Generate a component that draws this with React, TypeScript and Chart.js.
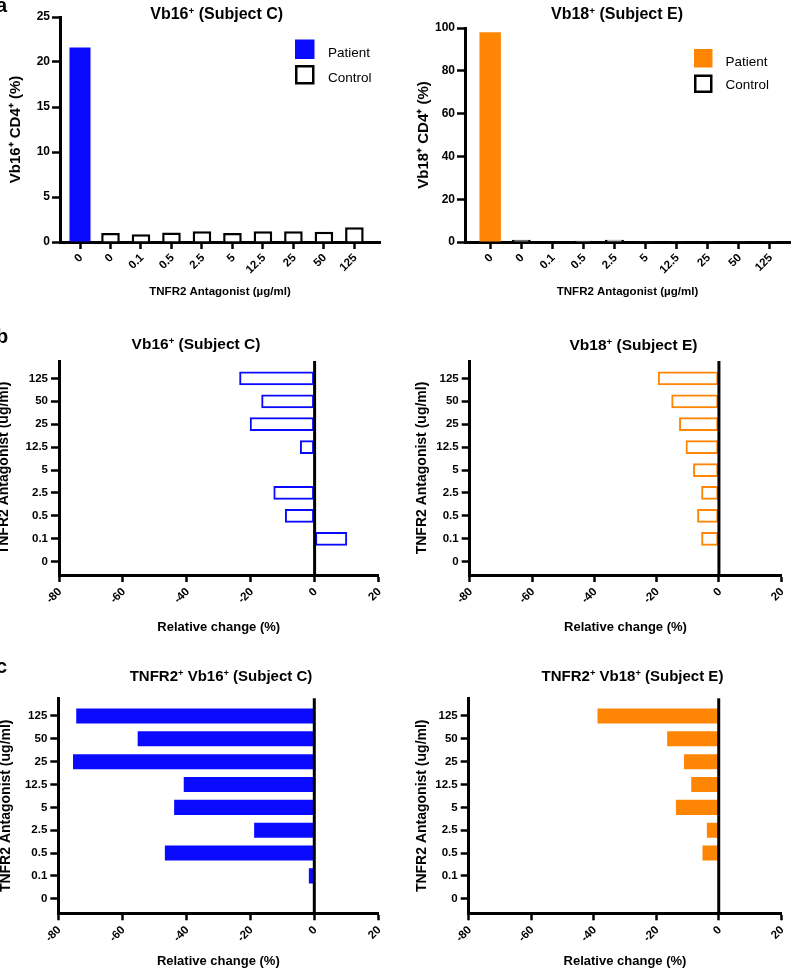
import React, { useEffect, useRef } from "react";
import { Chart, registerables } from "chart.js";

Chart.register(...registerables);

const FONT = "'Liberation Sans', Arial, Helvetica, sans-serif";
const BLUE = "#0a0aff";
const ORANGE = "#ff8505";

// ---------- data ----------
const panelACategories = ["0", "0", "0.1", "0.5", "2.5", "5", "12.5", "25", "50", "125"];
const doseLabels = ["0", "0.1", "0.5", "2.5", "5", "12.5", "25", "50", "125"];
const legendLabels = ["Patient", "Control"];

const vb16Patient = [21.6];
const vb16Control = [1.0, 0.85, 1.05, 1.2, 1.0, 1.2, 1.2, 1.15, 1.65];
const vb18Patient = [98];
const vb18Control = [1.0, 0.3, 0.6, 1.1, 0.1, 0.1, 0.1, 0.1, 0.1];

const vb16Relative = [null, 10.2, -9.3, -12.9, null, -4.6, -20.3, -16.7, -23.6];
const vb18Relative = [null, -5.7, -7.0, -5.7, -8.3, -10.7, -12.8, -15.3, -19.6];
const tnfr2Vb16Relative = [null, -1.7, -46.7, -18.8, -43.8, -40.8, -75.4, -55.2, -74.4];
const tnfr2Vb18Relative = [null, null, -5.2, -3.8, -13.7, -8.8, -11.1, -16.5, -38.8];

// ---------- plugins ----------
const boxLegend = {
  id: "boxLegend",
  afterDraw(chart: any, _args: any, opts: any) {
    if (!opts || !opts.show) return;
    const ctx = chart.ctx;
    ctx.save();
    chart.data.datasets.forEach((ds: any, i: number) => {
      const y = opts.ys[i];
      const s = opts.size;
      ctx.fillStyle = ds.backgroundColor;
      ctx.fillRect(opts.x, y, s, s);
      if (ds.borderWidth) {
        ctx.lineWidth = ds.borderWidth;
        ctx.strokeStyle = ds.borderColor;
        const h = ds.borderWidth / 2;
        ctx.strokeRect(opts.x + h, y + h, s - ds.borderWidth, s - ds.borderWidth);
      }
      ctx.fillStyle = "#000";
      ctx.font = `normal ${opts.fontSize}px ${FONT}`;
      ctx.textAlign = "left";
      ctx.textBaseline = "alphabetic";
      ctx.fillText(ds.label, opts.textX, opts.baselines[i]);
    });
    ctx.restore();
  },
};

const zeroLine = {
  id: "zeroLine",
  afterDatasetsDraw(chart: any, _args: any, opts: any) {
    if (!opts || !opts.show) return;
    const { ctx, chartArea } = chart;
    const x = chart.scales.x.getPixelForValue(0);
    ctx.save();
    ctx.strokeStyle = "#000";
    ctx.lineWidth = 3;
    ctx.beginPath();
    ctx.moveTo(x, chartArea.top);
    ctx.lineTo(x, chartArea.bottom);
    ctx.stroke();
    ctx.restore();
  },
};

const tickFont = (size: number) => ({ family: FONT, size, weight: "bold" as const });

// ---------- config builders ----------
type Area = { l: number; t: number; r: number; b: number };

function verticalBarConfig(p: {
  patient: number[];
  control: number[];
  color: string;
  yMax: number;
  yStep: number;
  yTitle: string;
  yTitlePad: number;
  area: Area;
  w: number;
  h: number;
  xMin: number;
  xMax: number;
  legend: any;
}) {
  return {
    type: "bar",
    data: {
      datasets: [
        {
          label: legendLabels[0],
          data: p.patient.map((v) => ({ x: 0, y: v })),
          backgroundColor: p.color,
          borderWidth: 0,
          barPercentage: 0.69,
          categoryPercentage: 1,
          grouped: false,
        },
        {
          label: legendLabels[1],
          data: p.control.map((v, i) => ({ x: i + 1, y: v })),
          backgroundColor: "#ffffff",
          borderColor: "#000000",
          borderWidth: 2.5,
          barPercentage: 0.61,
          categoryPercentage: 1,
          grouped: false,
        },
      ],
    },
    options: {
      responsive: false,
      animation: false,
      devicePixelRatio: 1,
      layout: { padding: { left: 0, top: p.area.t, right: p.w - p.area.r, bottom: 0 } },
      plugins: {
        legend: { display: false },
        tooltip: { enabled: false },
        title: { display: false },
        boxLegend: p.legend,
      },
      scales: {
        x: {
          type: "linear",
          min: p.xMin,
          max: p.xMax,
          offset: false,
          z: 1,
          afterBuildTicks: (s: any) => {
            s.ticks = panelACategories.map((_, i) => ({ value: i }));
          },
          ticks: {
            autoSkip: false,
            minRotation: 45,
            maxRotation: 45,
            color: "#000",
            padding: 2,
            labelOffset: 1,
            font: tickFont(11.5),
            callback: (_v: any, i: number) => panelACategories[i],
          },
          grid: {
            display: true,
            offset: false,
            drawOnChartArea: false,
            drawTicks: true,
            tickLength: 7,
            tickWidth: 2.5,
            tickColor: "#000",
          },
          border: { display: true, color: "#000", width: 3 },
          title: {
            display: true,
            text: "TNFR2 Antagonist (µg/ml)",
            color: "#000",
            font: tickFont(11.5),
            padding: { top: 0, bottom: 1.1 },
          },
          afterFit: (s: any) => {
            s.height = p.h - p.area.b;
          },
        },
        y: {
          type: "linear",
          min: 0,
          max: p.yMax,
          z: 1,
          ticks: { stepSize: p.yStep, color: "#000", padding: 2, font: tickFont(12) },
          grid: {
            display: true,
            drawOnChartArea: false,
            drawTicks: true,
            tickLength: 8,
            tickWidth: 2.5,
            tickColor: "#000",
          },
          border: { display: true, color: "#000", width: 3 },
          title: {
            display: true,
            text: p.yTitle,
            color: "#000",
            font: tickFont(15),
            padding: { top: p.yTitlePad, bottom: 0 },
          },
          afterFit: (s: any) => {
            s.width = p.area.l;
          },
        },
      },
    },
    plugins: [boxLegend],
  };
}

function horizontalBarConfig(p: {
  values: (number | null)[];
  color: string;
  filled: boolean;
  barPct: number;
  area: Area;
  w: number;
  h: number;
  yMin: number;
  yMax: number;
  yTitlePad: number;
  xTitlePad: number;
}) {
  return {
    type: "bar",
    data: {
      datasets: [
        {
          label: "Relative change",
          data: p.values.map((v, i) => ({ x: v, y: i })),
          backgroundColor: p.filled ? p.color : "rgba(0,0,0,0)",
          borderColor: p.color,
          borderWidth: p.filled ? 0 : 2,
          borderSkipped: false,
          barPercentage: p.barPct,
          categoryPercentage: 1,
        },
      ],
    },
    options: {
      indexAxis: "y",
      responsive: false,
      animation: false,
      devicePixelRatio: 1,
      layout: { padding: { left: 0, top: p.area.t, right: p.w - p.area.r, bottom: 0 } },
      plugins: {
        legend: { display: false },
        tooltip: { enabled: false },
        title: { display: false },
        zeroLine: { show: true },
      },
      scales: {
        x: {
          type: "linear",
          min: -80,
          max: 20,
          offset: false,
          z: 1,
          ticks: {
            stepSize: 20,
            autoSkip: false,
            minRotation: 45,
            maxRotation: 45,
            color: "#000",
            padding: 3,
            labelOffset: 1,
            font: tickFont(11.5),
          },
          grid: {
            display: true,
            offset: false,
            drawOnChartArea: false,
            drawTicks: true,
            tickLength: 7,
            tickWidth: 2.5,
            tickColor: "#000",
          },
          border: { display: true, color: "#000", width: 3 },
          title: {
            display: true,
            text: "Relative change (%)",
            color: "#000",
            font: tickFont(13),
            padding: { top: 0, bottom: p.xTitlePad },
          },
          afterFit: (s: any) => {
            s.height = p.h - p.area.b;
          },
        },
        y: {
          type: "linear",
          min: p.yMin,
          max: p.yMax,
          offset: false,
          z: 1,
          afterBuildTicks: (s: any) => {
            s.ticks = doseLabels.map((_, i) => ({ value: i }));
          },
          ticks: {
            autoSkip: false,
            color: "#000",
            padding: 3,
            font: tickFont(11.5),
            callback: (_v: any, i: number) => doseLabels[i],
          },
          grid: {
            display: true,
            offset: false,
            drawOnChartArea: false,
            drawTicks: true,
            tickLength: 8,
            tickWidth: 2.5,
            tickColor: "#000",
          },
          border: { display: true, color: "#000", width: 3 },
          title: {
            display: true,
            text: "TNFR2 Antagonist (ug/ml)",
            color: "#000",
            font: tickFont(14),
            padding: { top: p.yTitlePad, bottom: 0 },
          },
          afterFit: (s: any) => {
            s.width = p.area.l;
          },
        },
      },
    },
    plugins: [zeroLine],
  };
}

// ---------- panel specs ----------
const W = 397;
const panels = [
  {
    key: "aL",
    x: 0,
    y: 0,
    w: W,
    h: 300,
    config: () =>
      verticalBarConfig({
        patient: vb16Patient,
        control: vb16Control,
        color: BLUE,
        yMax: 25,
        yStep: 5,
        yTitle: "Vb16\u207A CD4\u207A (%)",
        yTitlePad: 7,
        area: { l: 60, t: 17, r: 380, b: 242 },
        w: W,
        h: 300,
        xMin: -0.656,
        xMax: 9.84,
        legend: { show: true, x: 295, ys: [39.5, 65], size: 19.5, textX: 328, baselines: [57.3, 81.7], fontSize: 13.5 },
      }),
  },
  {
    key: "aR",
    x: 397,
    y: 0,
    w: W,
    h: 300,
    config: () =>
      verticalBarConfig({
        patient: vb18Patient,
        control: vb18Control,
        color: ORANGE,
        yMax: 100,
        yStep: 20,
        yTitle: "Vb18\u207A CD4\u207A (%)",
        yTitlePad: 17.7,
        area: { l: 68, t: 28, r: 393, b: 242 },
        w: W,
        h: 300,
        xMin: -0.81,
        xMax: 9.65,
        legend: { show: true, x: 297, ys: [49, 74.5], size: 18.5, textX: 328.5, baselines: [65.7, 89.3], fontSize: 13.5 },
      }),
  },
  {
    key: "bL",
    x: 0,
    y: 300,
    w: W,
    h: 335,
    config: () =>
      horizontalBarConfig({
        values: vb16Relative,
        color: BLUE,
        filled: false,
        barPct: 0.6,
        area: { l: 59, t: 61, r: 378.5, b: 275 },
        w: W,
        h: 335,
        yMin: -0.58,
        yMax: 8.76,
        yTitlePad: -3.9,
        xTitlePad: 0.2,
      }),
  },
  {
    key: "bR",
    x: 397,
    y: 300,
    w: W,
    h: 335,
    config: () =>
      horizontalBarConfig({
        values: vb18Relative,
        color: ORANGE,
        filled: false,
        barPct: 0.6,
        area: { l: 72.7, t: 61, r: 391.7, b: 275 },
        w: W,
        h: 335,
        yMin: -0.58,
        yMax: 8.76,
        yTitlePad: 16.6,
        xTitlePad: 0.2,
      }),
  },
  {
    key: "cL",
    x: 0,
    y: 635,
    w: W,
    h: 335,
    config: () =>
      horizontalBarConfig({
        values: tnfr2Vb16Relative,
        color: BLUE,
        filled: true,
        barPct: 0.66,
        area: { l: 58.3, t: 63.3, r: 378.3, b: 278.3 },
        w: W,
        h: 335,
        yMin: -0.64,
        yMax: 8.775,
        yTitlePad: -2.4,
        xTitlePad: 0.5,
      }),
  },
  {
    key: "cR",
    x: 397,
    y: 635,
    w: W,
    h: 335,
    config: () =>
      horizontalBarConfig({
        values: tnfr2Vb18Relative,
        color: ORANGE,
        filled: true,
        barPct: 0.66,
        area: { l: 71.7, t: 63.3, r: 391.7, b: 278.3 },
        w: W,
        h: 335,
        yMin: -0.64,
        yMax: 8.775,
        yTitlePad: 17.1,
        xTitlePad: 0.5,
      }),
  },
];

function ChartCanvas({ spec }: { spec: any }) {
  const ref = useRef<HTMLCanvasElement | null>(null);
  useEffect(() => {
    if (!ref.current) return;
    const chart = new Chart(ref.current, spec.config() as any);
    return () => chart.destroy();
  }, [spec]);
  return (
    <canvas
      ref={ref}
      width={spec.w}
      height={spec.h}
      style={{ position: "absolute", left: spec.x, top: spec.y, width: spec.w, height: spec.h }}
    />
  );
}

function Sup({ children }: { children: React.ReactNode }) {
  return <sup style={{ fontSize: "0.62em", lineHeight: 0, verticalAlign: "0.5em" }}>{children}</sup>;
}

function Title({ cx, cy, size, children }: { cx: number; cy: number; size: number; children: React.ReactNode }) {
  return (
    <div
      style={{
        position: "absolute",
        left: cx,
        top: cy,
        transform: "translate(-50%, -50%)",
        fontFamily: FONT,
        fontWeight: "bold",
        fontSize: size,
        lineHeight: 1,
        whiteSpace: "nowrap",
        color: "#000",
      }}
    >
      {children}
    </div>
  );
}

function Letter({ top, children }: { top: number; children: React.ReactNode }) {
  return (
    <div
      style={{
        position: "absolute",
        left: -4,
        top,
        fontFamily: FONT,
        fontWeight: "bold",
        fontSize: 20,
        lineHeight: 1,
        color: "#000",
      }}
    >
      {children}
    </div>
  );
}

export default function App() {
  return (
    <div
      style={{
        position: "absolute",
        left: 0,
        top: 0,
        width: 794,
        height: 970,
        overflow: "hidden",
        background: "#fff",
      }}
    >
      {panels.map((p) => (
        <ChartCanvas key={p.key} spec={p} />
      ))}
      <Letter top={-5.2}>a</Letter>
      <Letter top={326}>b</Letter>
      <Letter top={656}>c</Letter>
      <Title cx={216.7} cy={14} size={16}>
        Vb16<Sup>+</Sup> (Subject C)
      </Title>
      <Title cx={617} cy={14} size={16}>
        Vb18<Sup>+</Sup> (Subject E)
      </Title>
      <Title cx={196} cy={343.5} size={15.5}>
        Vb16<Sup>+</Sup> (Subject C)
      </Title>
      <Title cx={633.5} cy={345} size={15.5}>
        Vb18<Sup>+</Sup> (Subject E)
      </Title>
      <Title cx={221} cy={675} size={15}>
        TNFR2<Sup>+</Sup> Vb16<Sup>+</Sup> (Subject C)
      </Title>
      <Title cx={632.5} cy={675} size={15}>
        TNFR2<Sup>+</Sup> Vb18<Sup>+</Sup> (Subject E)
      </Title>
    </div>
  );
}
